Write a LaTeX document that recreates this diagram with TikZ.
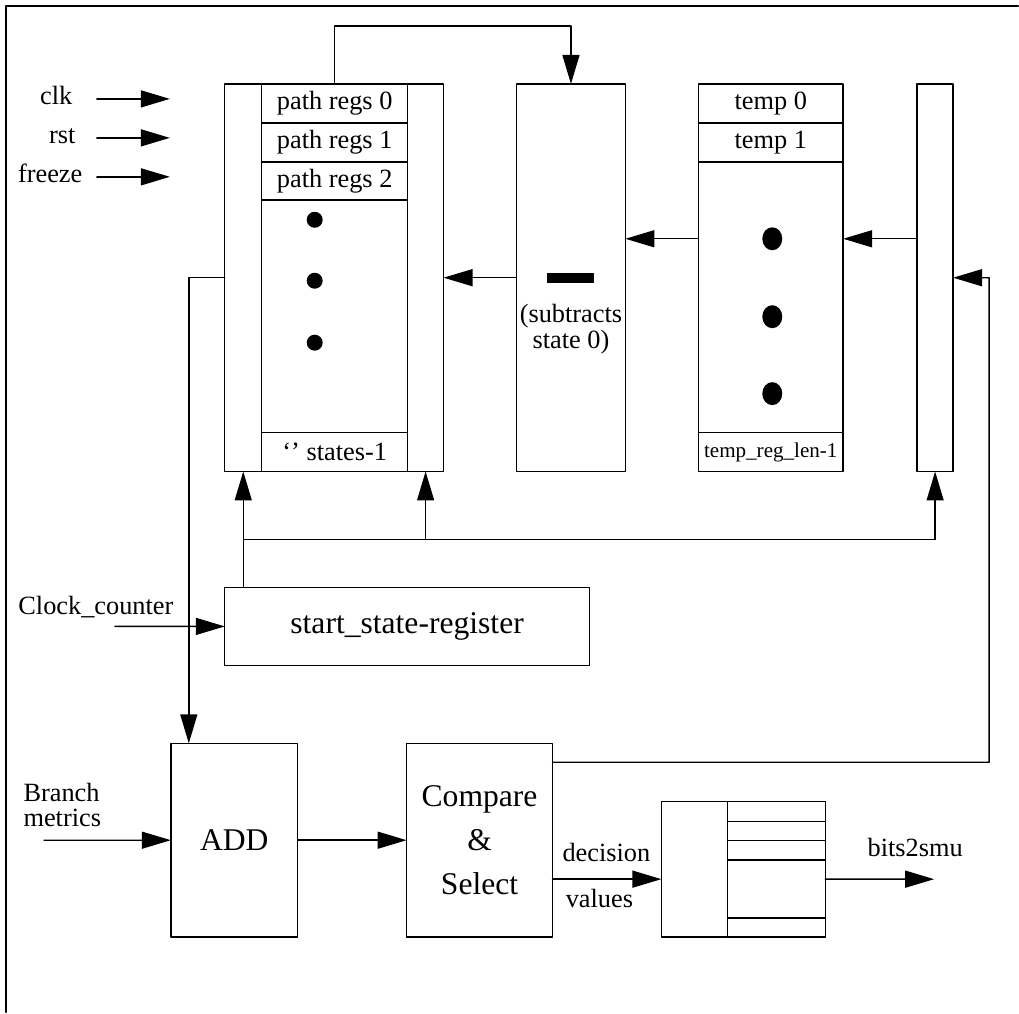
\documentclass[tikz,border=0pt]{standalone}
\usepackage{fontspec}
\setmainfont{Liberation Serif}
\usetikzlibrary{arrows.meta,shapes.geometric}

\begin{document}
\begin{tikzpicture}[line cap=round,line join=round,x=0.02cm,y=-0.02cm,
  line width=0.8pt,
  every node/.style={font=\fontsize{15}{18}\selectfont},
  blk/.style={draw,rectangle,inner sep=0pt,outer sep=0pt,anchor=north west},
  bigtxt/.style={font=\fontsize{18}{25}\selectfont},
  arr/.style={-{Triangle[length=0.58cm,width=0.34cm]}},
  pdot/.style={circle,fill,inner sep=0pt,minimum size=0.32cm},
  tdot/.style={ellipse,fill,inner sep=0pt,minimum width=0.4cm,minimum height=0.46cm}]
\fill[white] (0,0) rectangle (1019,1013);
\draw[line width=1.1pt] (6,1013) -- (6,6) -- (1019,6);
% path registers
\node[blk,minimum width=0.74cm,minimum height=7.76cm] (lcol) at (225,84) {};
\node[blk,minimum width=2.92cm,minimum height=0.78cm] (pr0) at (262,84) {path regs 0};
\node[blk,minimum width=2.92cm,minimum height=0.78cm] (pr1) at (262,123) {path regs 1};
\node[blk,minimum width=2.92cm,minimum height=0.76cm] (pr2) at (262,162) {path regs 2};
\node[blk,minimum width=2.92cm,minimum height=4.66cm] (prd) at (262,200) {};
\node[blk,minimum width=2.92cm,minimum height=0.78cm] (prn) at (262,433) {\textquoteleft\textquoteright\ states-1};
\node[blk,minimum width=0.72cm,minimum height=7.76cm] (rcol) at (408,84) {};
\foreach \y [count=\i] in {220,281,343}
  \node[pdot] (pd\i) at (315,\y) {};
% subtract
\node[blk,minimum width=2.18cm,minimum height=7.76cm] (sub) at (517,84) {};
\fill (548,273) rectangle (595,283);
\node[align=center,font=\fontsize{15}{14.8}\selectfont] (subtxt) at (571.5,329) {(subtracts\\state 0)};
% temp registers
\node[blk,minimum width=2.9cm,minimum height=0.78cm] (tmp0) at (699,84) {temp 0};
\node[blk,minimum width=2.9cm,minimum height=0.78cm] (tmp1) at (699,123) {temp 1};
\node[blk,minimum width=2.9cm,minimum height=5.42cm] (tmpd) at (699,162) {};
\node[blk,minimum width=2.9cm,minimum height=0.78cm,font=\fontsize{12}{14}\selectfont] (tmpn) at (699,433) {temp\_reg\_len-1};
\foreach \y [count=\i] in {239,317,394}
  \node[tdot] (td\i) at (773,\y) {};
\node[blk,minimum width=0.72cm,minimum height=7.76cm] (bar) at (918,84) {};
% lower blocks
\node[blk,bigtxt,minimum width=7.3cm,minimum height=1.56cm] (ssr) at (225,588) {start\_state-register};
\node[blk,bigtxt,minimum width=2.54cm,minimum height=3.88cm] (add) at (171,744) {ADD};
\node[blk,align=center,font=\fontsize{18}{24.8}\selectfont,minimum width=2.92cm,minimum height=3.88cm] (cs) at (407,744) {Compare\\\&\\Select};
\node[blk,minimum width=1.32cm,minimum height=2.72cm] (regl) at (662,802) {};
\foreach \y/\h [count=\i] in {802/0.4cm,822/0.38cm,841/0.4cm,861/1.16cm,919/0.38cm}
  \node[blk,minimum width=1.96cm,minimum height=\h] (regr\i) at (728,\y) {};
% inputs
\node[anchor=base east] (clk) at (79,105) {clk};
\node[anchor=base east] (rst) at (82,144) {rst};
\node[anchor=base east] (frz) at (89,183) {freeze};
\foreach \n/\y in {clk/99,rst/138,frz/177}{
  \coordinate (\n-a) at (97,\y);
  \coordinate (\n-b) at (170,\y);
  \draw[arr] (\n-a) -- (\n-b);
}
\node (cc) at (96,608) {Clock\_counter};
\coordinate (cc-a) at (115,627);
\draw[arr] (cc-a) -- (ssr.west);
\node[align=left,anchor=west,font=\fontsize{15}{14.3}\selectfont] (bm) at (17,805.5) {Branch\\metrics};
\coordinate (bm-a) at (44,841);
\draw[arr] (bm-a) -- (add.west);
% connections
\draw[arr] (pr0.north) -- ++(0,-58) -| (sub.north);
\draw[arr] (sub.west) -- (rcol.east);
\draw[arr] (tmpd.west |- td1) -- (sub.east |- td1);
\draw[arr] (bar.west |- td1) -- (tmpd.east |- td1);
\draw[arr] (lcol.west) -| ([xshift=0.36cm]add.north west);
\coordinate (fb) at (990,278);
\draw[arr] ([yshift=-0.38cm]cs.north east) -| (fb) -- (bar.east);
\coordinate (bus) at (244,540);
\draw[arr] (ssr.north -| lcol.south) -- (lcol.south);
\draw (bus) -- (bar.south |- bus);
\draw[arr] (rcol.south |- bus) -- (rcol.south);
\draw[arr] (bar.south |- bus) -- (bar.south);
\draw[arr] (add.east) -- (cs.west);
\coordinate (dec) at ([yshift=-0.78cm]cs.east);
\draw[arr] (dec) -- (regl.west |- dec);
\node[anchor=base] (dectxt) at (607,862) {decision};
\node[anchor=base] (valtxt) at (600,908) {values};
\coordinate (out) at (935,880);
\draw[arr] (regr4.east |- dec) -- (out);
\node[anchor=base] (b2s) at (916,857) {bits2smu};
\end{tikzpicture}
\end{document}
